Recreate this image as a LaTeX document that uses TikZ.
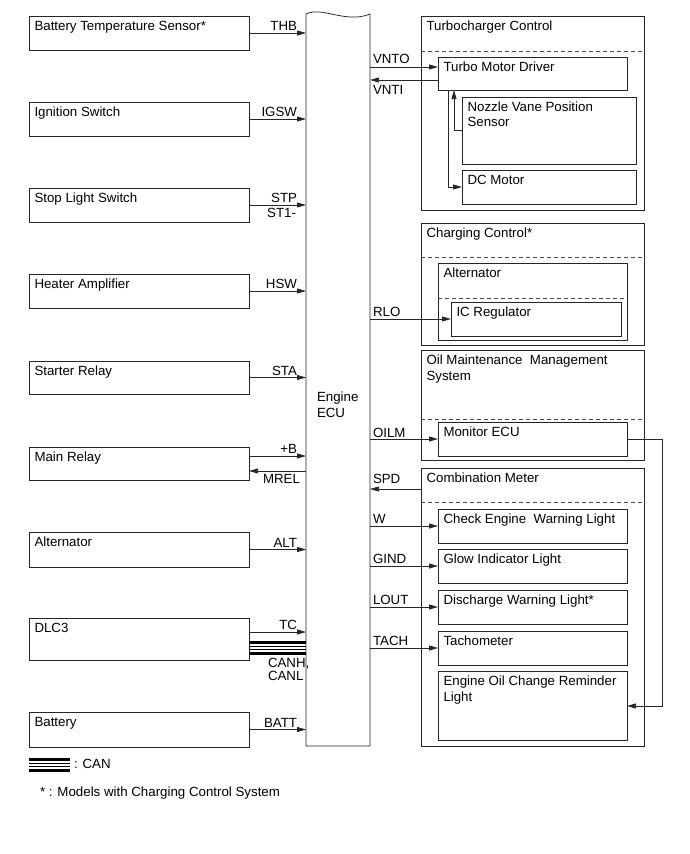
\documentclass[tikz,border=0pt]{standalone}
\usepackage{fontspec}
\setmainfont{Liberation Sans}
\usetikzlibrary{arrows.meta}
\newcommand\mybox[6]{%
  \node[boxs, minimum width={#4-#2}, minimum height={#5-#3}, anchor=north west] (#1) at (#2,#3) {};
  \node[txt, anchor=base west] (#1t) at ([xshift=5.5pt,yshift=-14.5pt]#1.north west) {#6};}
\newcommand\twol[3][15.5pt]{\vtop{\baselineskip=#1\hbox{#2}\hbox{#3}}}
\begin{document}
\begin{tikzpicture}[x=1pt,y=-1pt,
  boxs/.style={draw=black!85, line width=0.75pt, inner sep=0pt, outer sep=0pt},
  txt/.style={inner sep=0pt, outer sep=0pt, font=\fontsize{13.3}{15.5}\selectfont},
  lbl/.style={inner sep=0pt, outer sep=0pt, font=\fontsize{13.3}{14}\selectfont},
  wire/.style={draw=black!85, line width=0.75pt},
  arr/.style={wire, -{Triangle[length=9pt,width=5pt]}},
  dsh/.style={draw=black!70, line width=0.75pt, dash pattern=on 4pt off 3pt},
  canthick/.style={draw=black, line width=2.2pt},
  canthin/.style={draw=black, line width=0.6pt}]
\useasboundingbox (0,0) rectangle (690,854);
\fill[white] (0,0) rectangle (690,854);

% ---------- Engine ECU ----------
\node[inner sep=0pt, outer sep=0pt, minimum width=64, minimum height=732, anchor=north west] (ecu) at (306,14) {};
\draw[wire] (ecu.north west) .. controls +(16,-8) and +(-24,10) .. (ecu.north east) -- (ecu.south east) -- (ecu.south west) -- cycle;
\node[txt, anchor=base west] (ecut) at (317,401) {\twol[16pt]{Engine}{ECU}};

% ---------- left boxes ----------
\mybox{bts}{29}{16}{249}{50}{Battery Temperature Sensor*}
\mybox{ign}{29}{102}{249}{136}{Ignition Switch}
\mybox{sls}{29}{188}{249}{222}{Stop Light Switch}
\mybox{hta}{29}{274}{249}{308}{Heater Amplifier}
\mybox{str}{29}{361}{249}{394}{Starter Relay}
\mybox{mrl}{29}{447}{249}{480}{Main Relay}
\mybox{alt}{29}{532}{249}{567}{Alternator}
\mybox{dlc}{29}{618}{249}{660}{DLC3}
\mybox{bat}{29}{712}{249}{747}{Battery}

% ---------- left connectors ----------
\draw[arr] (bts.east) -- (bts.east -| ecu.west);
\node[lbl, anchor=base east] (lthb) at (297,30.5) {THB};
\draw[arr] (ign.east) -- (ign.east -| ecu.west);
\node[lbl, anchor=base east] (ligsw) at (297,116.5) {IGSW};
\draw[arr] (sls.east) -- (sls.east -| ecu.west);
\node[lbl, anchor=base east] (lstp) at (297,202.5) {STP};
\node[lbl, anchor=base east] (lst1) at (296,217) {ST1-};
\draw[arr] (hta.east) -- (hta.east -| ecu.west);
\node[lbl, anchor=base east] (lhsw) at (297,288.5) {HSW};
\draw[arr] (str.east) -- (str.east -| ecu.west);
\node[lbl, anchor=base east] (lsta) at (297,375) {STA};
\coordinate (mrB) at (249,456);
\coordinate (mrM) at (249,471);
\draw[arr] (mrB) -- (mrB -| ecu.west);
\node[lbl, anchor=base east] (lpb) at (297,453.5) {+B};
\draw[arr] (mrM -| ecu.west) -- (mrM);
\node[lbl, anchor=base east] (lmrel) at (300,483) {MREL};
\draw[arr] (alt.east) -- (alt.east -| ecu.west);
\node[lbl, anchor=base east] (lalt) at (297,547) {ALT};
\coordinate (dlcTC) at (249,632);
\draw[arr] (dlcTC) -- (dlcTC -| ecu.west);
\node[lbl, anchor=base east] (ltc) at (297,629.5) {TC};
\coordinate (can1) at (249,642.5);
\coordinate (can2) at (249,646.3);
\coordinate (can3) at (249,649.7);
\coordinate (can4) at (249,653.5);
\draw[canthick] (can1) -- (can1 -| ecu.west);
\draw[canthin] (can2) -- (can2 -| ecu.west);
\draw[canthin] (can3) -- (can3 -| ecu.west);
\draw[canthick] (can4) -- (can4 -| ecu.west);
\node[lbl, anchor=base west] (lcanh) at (268,667) {\twol[13.5pt]{CANH,}{CANL}};
\draw[arr] (bat.east) -- (bat.east -| ecu.west);
\node[lbl, anchor=base east] (lbatt) at (297,727) {BATT};

% ---------- Turbocharger control ----------
\mybox{tcc}{421}{16}{644}{210}{Turbocharger Control}
\draw[dsh] (421,51) -- (644,51);
\mybox{tmd}{438}{57}{627}{90}{Turbo Motor Driver}
\mybox{nvp}{462}{97}{636}{164}{\twol[15pt]{Nozzle Vane Position}{Sensor}}
\mybox{dcm}{462}{170}{636}{204}{DC Motor}
\coordinate (vnto) at (370,67);
\coordinate (vnti) at (438,80);
\draw[arr] (vnto) -- (vnto -| tmd.west);
\node[lbl, anchor=base west] (lvnto) at (373,63) {VNTO};
\draw[arr] (vnti) -- (vnti -| ecu.east);
\node[lbl, anchor=base west] (lvnti) at (373,94) {VNTI};
\coordinate (nvA) at (462,130);
\draw[arr] (nvA) -- (454,130) -- (454,90);
\coordinate (dcA) at (448,90);
\draw[arr] (dcA) -- (448,187) -- (462,187);

% ---------- Charging control ----------
\mybox{chg}{421}{223}{644}{345}{Charging Control*}
\draw[dsh] (421,257) -- (644,257);
\mybox{alr}{438}{263}{627}{340}{Alternator}
\draw[dsh] (438,298) -- (627,298);
\mybox{icr}{451}{302}{621}{336}{IC Regulator}
\draw[arr] (icr.west -| ecu.east) -- (icr.west);
\node[lbl, anchor=base west] (lrlo) at (373,316) {RLO};

% ---------- Oil maintenance ----------
\mybox{oil}{421}{350}{644}{460}{\twol[16pt]{Oil Maintenance\ \ Management}{System}}
\draw[dsh] (421,419) -- (644,419);
\mybox{mon}{438}{422}{627}{456}{Monitor ECU}
\draw[arr] (mon.west -| ecu.east) -- (mon.west);
\node[lbl, anchor=base west] (loilm) at (373,437.5) {OILM};

% ---------- Combination meter ----------
\mybox{cmb}{421}{468}{644}{746}{Combination Meter}
\draw[dsh] (421,502) -- (644,502);
\mybox{cel}{438}{509}{627}{543}{Check Engine\ \ Warning Light}
\mybox{gil}{438}{549}{627}{583}{Glow Indicator Light}
\mybox{dwl}{438}{590}{627}{624}{Discharge Warning Light*}
\mybox{tac}{438}{631}{627}{665}{Tachometer}
\mybox{eoc}{438}{671}{627}{740}{\twol[16pt]{Engine Oil Change Reminder}{Light}}
\coordinate (spd) at (421,489);
\draw[arr] (spd) -- (spd -| ecu.east);
\node[lbl, anchor=base west] (lspd) at (373,483) {SPD};
\draw[arr] (cel.west -| ecu.east) -- (cel.west);
\node[lbl, anchor=base west] (lw) at (373,523) {W};
\draw[arr] (gil.west -| ecu.east) -- (gil.west);
\node[lbl, anchor=base west] (lgind) at (373,563.5) {GIND};
\draw[arr] (dwl.west -| ecu.east) -- (dwl.west);
\node[lbl, anchor=base west] (llout) at (373,604.5) {LOUT};
\draw[arr] (tac.west -| ecu.east) -- (tac.west);
\node[lbl, anchor=base west] (ltach) at (373,645.5) {TACH};
\coordinate (eocA) at (627,706);
\draw[arr] (mon.east) -- (662,439) -- (662,706) -- (eocA);

% ---------- legend ----------
\coordinate (lg1) at (29,759.5);
\coordinate (lg2) at (70,759.5);
\draw[canthick] (lg1) -- (lg2);
\draw[canthin] (29,763.3) -- (70,763.3);
\draw[canthin] (29,766.7) -- (70,766.7);
\draw[canthick] (29,770.5) -- (70,770.5);
\node[lbl, anchor=base west] (lcan) at (74,768.5) {: CAN};
\node[lbl, anchor=base west] (lnote) at (40,796) {* : Models with Charging Control System};
\end{tikzpicture}
\end{document}
